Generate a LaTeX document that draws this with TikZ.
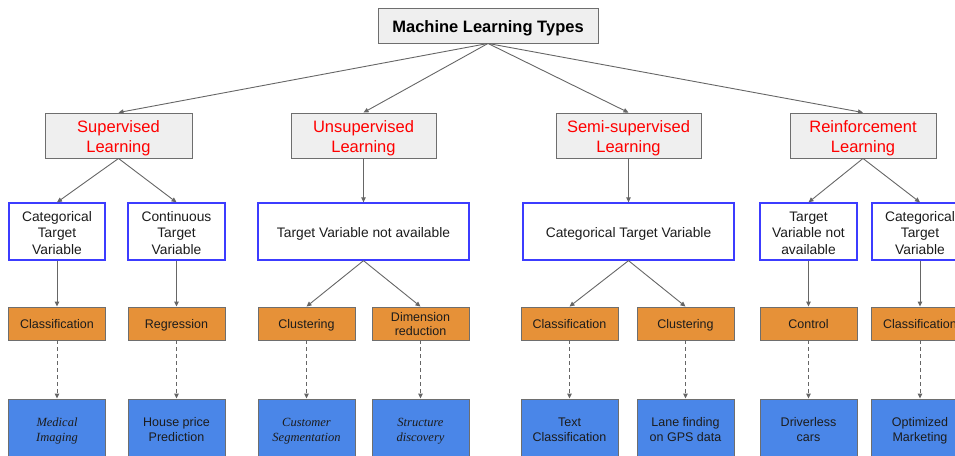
\documentclass[tikz,border=0pt]{standalone}
\usepackage{fontspec}
\setmainfont{Liberation Sans}
\newfontfamily\serifit{Liberation Serif}
\usetikzlibrary{arrows.meta}

\definecolor{boxgray}{HTML}{EFEFEF}
\definecolor{edgegray}{HTML}{6E6E6E}
\definecolor{linegray}{HTML}{666666}
\definecolor{kindred}{HTML}{FF0000}
\definecolor{outblue}{HTML}{3C3CFF}
\definecolor{taskorange}{HTML}{E69138}
\definecolor{useblue}{HTML}{4A86E8}
\definecolor{ink}{HTML}{1C1C1C}

\tikzset{
  % zero-width struts fix the height and depth of the label box (both
  % measured from its last baseline), so labels sit alike in their boxes
  struts/.style 2 args={
    execute at begin node={\rule{0pt}{#1}},
    execute at end node={\rule[-#2]{0pt}{#2}}},
  basebox/.style={align=center, inner sep=0pt, line width=0.9pt},
  topbox/.style={basebox, fill=boxgray, draw=edgegray, text=black,
    minimum width=220pt, minimum height=35pt, struts={18.9pt}{4.5pt},
    font=\fontsize{16.5}{19}\selectfont\bfseries},
  kindbox/.style={basebox, fill=boxgray, draw=edgegray, text=kindred,
    minimum height=45pt, struts={38pt}{5pt},
    font=\fontsize{16.5}{19.8}\selectfont},
  targetbox/.style={basebox, fill=white, draw=outblue, line width=1.3pt,
    text=ink, minimum height=57pt,
    font=\fontsize{13.8}{16.5}\selectfont},
  targetthree/.style={targetbox, struts={50pt}{5pt}},
  targetone/.style={targetbox, struts={17pt}{5pt}},
  taskbox/.style={basebox, fill=taskorange, draw=edgegray, text=ink,
    minimum width=97pt, minimum height=33pt,
    font=\fontsize{12.5}{14.5}\selectfont},
  taskone/.style={taskbox, struts={14pt}{4pt}},
  tasktwo/.style={taskbox, struts={28.4pt}{4pt}},
  usebox/.style={basebox, fill=useblue, draw=edgegray, text=ink,
    minimum width=97pt, minimum height=58pt, struts={30pt}{4pt},
    font=\fontsize{12.5}{14.5}\selectfont},
  link/.style={draw=linegray, line width=0.9pt,
    -{Triangle[length=5pt,width=4.5pt]}},
  dashlink/.style={link, dash pattern=on 4pt off 3pt},
}

\begin{document}
\begin{tikzpicture}[x=1pt,y=-1pt]
\useasboundingbox (0,0) rectangle (955,455);
\clip (0,0) rectangle (955,455);

% root
\node[topbox] (root) at (488,25.5) {Machine Learning Types};

% learning paradigms
\node[kindbox, minimum width=147pt] (sup)  at (118.5,135.5) {Supervised\\Learning};
\node[kindbox, minimum width=145pt] (uns)  at (363.5,135.5) {Unsupervised\\Learning};
\node[kindbox, minimum width=145pt] (semi) at (628.5,135.5) {Semi-supervised\\Learning};
\node[kindbox, minimum width=146pt] (rein) at (863,135.5)   {Reinforcement\\Learning};

% target variable
\node[targetthree, minimum width=96pt]  (tcat1) at (57,231.5)    {Categorical\\Target\\Variable};
\node[targetthree, minimum width=97pt]  (tcon)  at (176.5,231.5) {Continuous\\Target\\Variable};
\node[targetone,   minimum width=211pt] (tna1)  at (363.5,231.5) {Target Variable not available};
\node[targetone,   minimum width=211pt] (tcat2) at (628.5,231.5) {Categorical Target Variable};
\node[targetthree, minimum width=97pt]  (tna2)  at (808.5,231.5) {Target\\Variable not\\available};
\node[targetthree, minimum width=96pt]  (tcat3) at (920,231.5)   {Categorical\\Target\\Variable};

% tasks
\node[taskone] (cls1) at (57,323.5)    {Classification};
\node[taskone] (reg)  at (176.5,323.5) {Regression};
\node[taskone] (clu1) at (306.5,323.5) {Clustering};
\node[tasktwo] (dim)  at (420.5,323.5) {Dimension\\reduction};
\node[taskone] (cls2) at (569.5,323.5) {Classification};
\node[taskone] (clu2) at (685.5,323.5) {Clustering};
\node[taskone] (ctl)  at (808.5,323.5) {Control};
\node[taskone] (cls3) at (920,323.5)   {Classification};

% applications
\node[usebox] (u1) at (57,428)    {\serifit\itshape Medical\\\serifit\itshape Imaging};
\node[usebox] (u2) at (176.5,428) {House price\\Prediction};
\node[usebox] (u3) at (306.5,428) {\serifit\itshape Customer\\\serifit\itshape Segmentation};
\node[usebox] (u4) at (420.5,428) {\serifit\itshape Structure\\\serifit\itshape discovery};
\node[usebox] (u5) at (569.5,428) {Text\\Classification};
\node[usebox] (u6) at (685.5,428) {Lane finding\\on GPS data};
\node[usebox] (u7) at (808.5,428) {Driverless\\cars};
\node[usebox] (u8) at (920,428)   {Optimized\\Marketing};

% root to paradigms
\foreach \k in {sup,uns,semi,rein}
  \draw[link] (root.south) -- (\k.north);

% paradigms to target variable
\draw[link] (sup.south)  -- (tcat1.north);
\draw[link] (sup.south)  -- (tcon.north);
\draw[link] (uns.south)  -- (tna1.north);
\draw[link] (semi.south) -- (tcat2.north);
\draw[link] (rein.south) -- (tna2.north);
\draw[link] (rein.south) -- (tcat3.north);

% target variable to tasks
\draw[link] (tcat1.south) -- (cls1.north);
\draw[link] (tcon.south)  -- (reg.north);
\draw[link] (tna1.south)  -- (clu1.north);
\draw[link] (tna1.south)  -- (dim.north);
\draw[link] (tcat2.south) -- (cls2.north);
\draw[link] (tcat2.south) -- (clu2.north);
\draw[link] (tna2.south)  -- (ctl.north);
\draw[link] (tcat3.south) -- (cls3.north);

% tasks to applications
\foreach \t/\u in {cls1/u1,reg/u2,clu1/u3,dim/u4,cls2/u5,clu2/u6,ctl/u7,cls3/u8}
  \draw[dashlink] (\t.south) -- (\u.north);
\end{tikzpicture}
\end{document}
